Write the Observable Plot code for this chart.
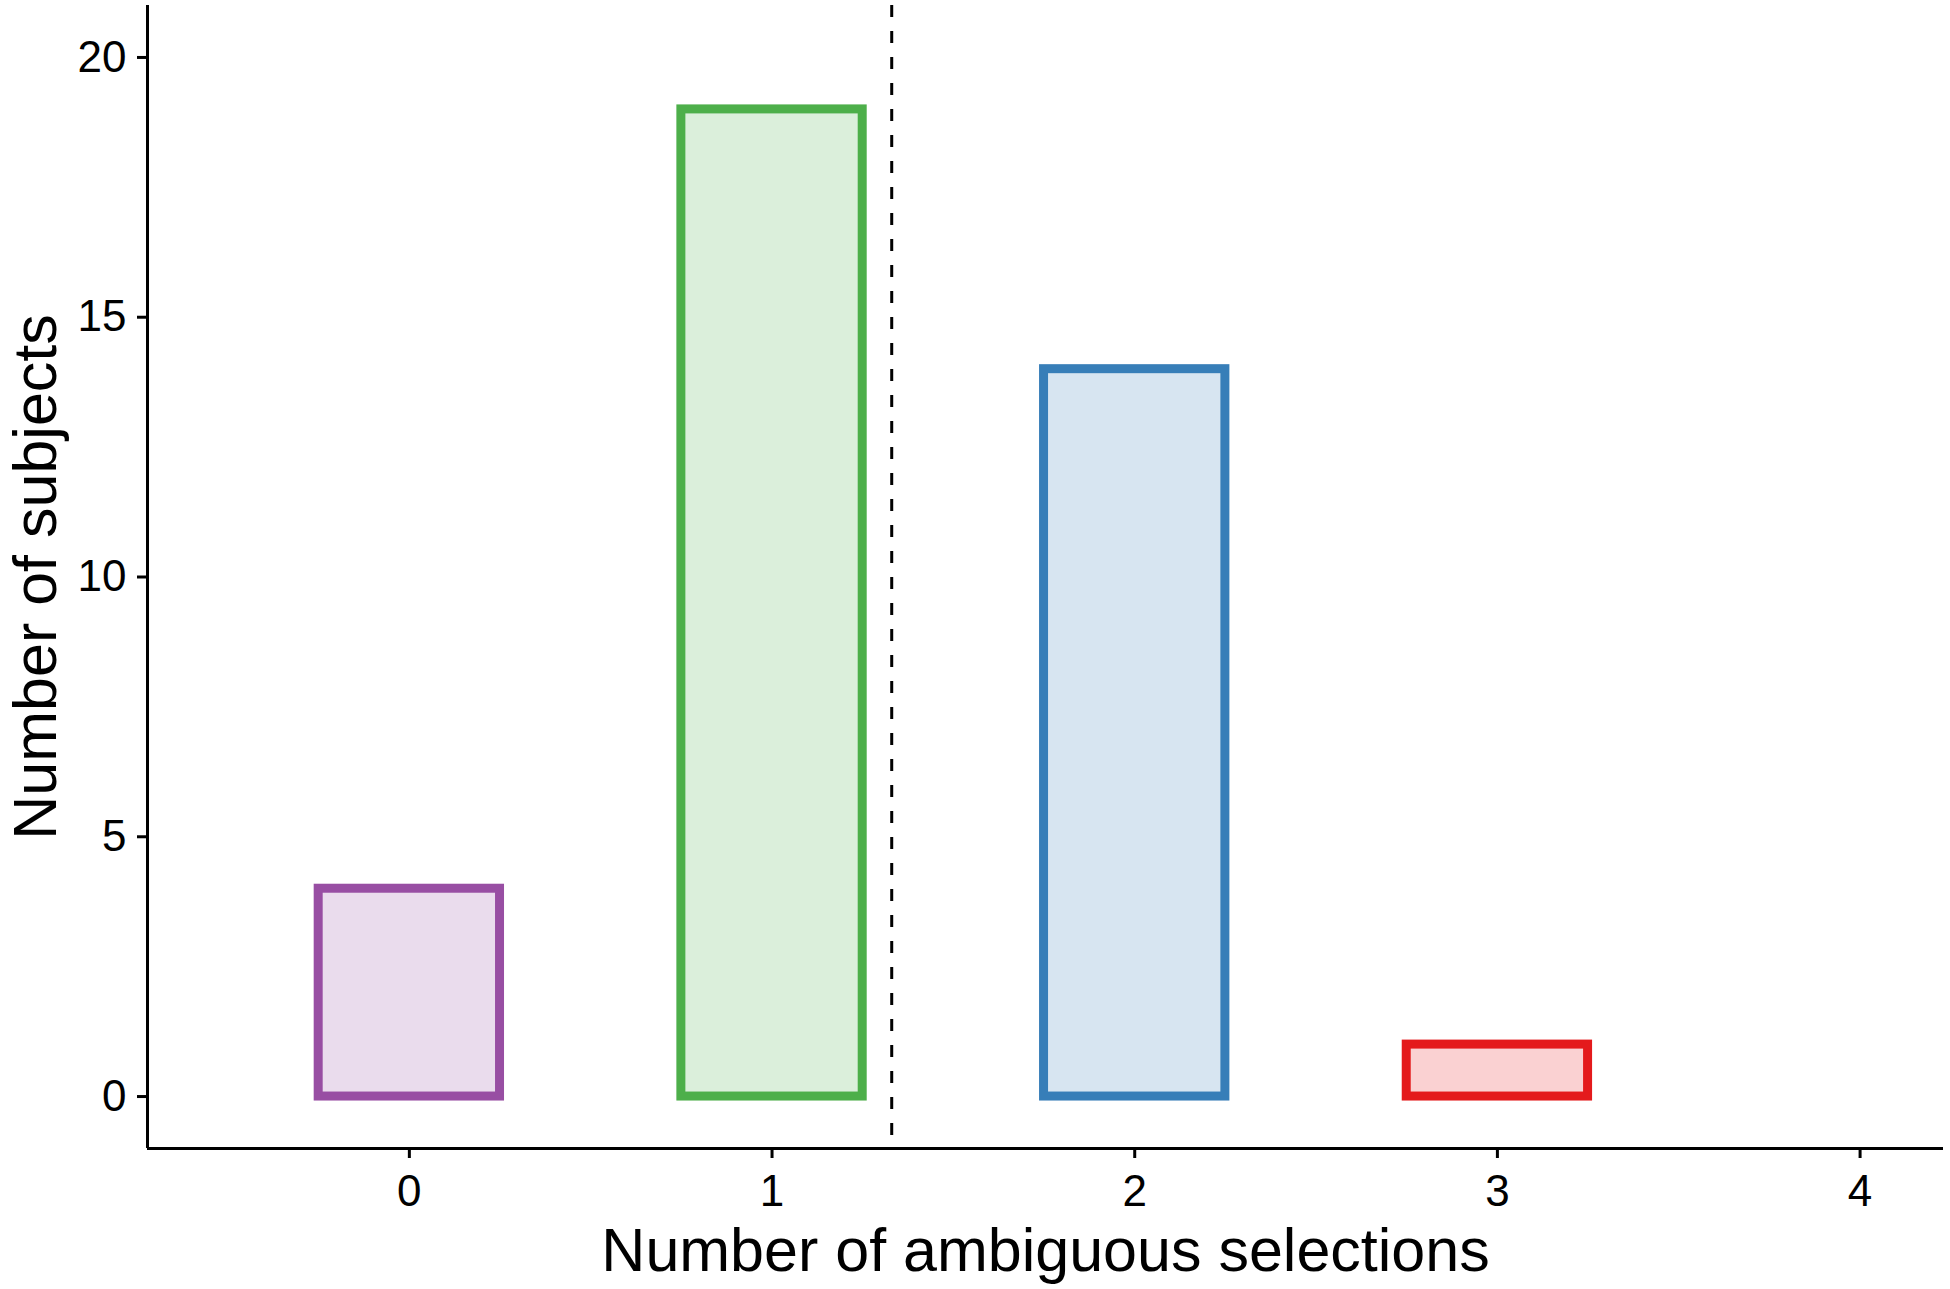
<!DOCTYPE html>
<html>
<head>
<meta charset="utf-8">
<script src="https://cdn.jsdelivr.net/npm/d3@7"></script>
<script src="https://cdn.jsdelivr.net/npm/@observablehq/plot@0.6"></script>
<style>
  html, body { margin: 0; padding: 0; background: #ffffff; }
  svg { display: block; }
</style>
</head>
<body>
<script>
// ---- data ----
const selections = [0, 1, 2, 3];
const subjects = [4, 19, 14, 1];
const barColors = ["#984EA3", "#4DAF4A", "#377EB8", "#E41A1C"];
const xTicks = [0, 1, 2, 3, 4];
const yTicks = [0, 5, 10, 15, 20];
const thresholdX = 1.33;
const xLabel = "Number of ambiguous selections";
const yLabel = "Number of subjects";

// ---- layout ----
const xDomain = [-0.722, 4.23];
const yDomain = [-1, 21];
const barHalf = 0.25;

const data = selections.map((s, i) => ({x: s, n: subjects[i], c: barColors[i]}));

const chart = Plot.plot({
  width: 1950,
  height: 1289,
  marginLeft: 147,
  marginRight: 7,
  marginTop: 5,
  marginBottom: 141,
  style: {fontFamily: "'Liberation Sans', Arial, Helvetica, sans-serif", background: "#ffffff", color: "#000000"},
  x: {domain: xDomain, axis: null},
  y: {domain: yDomain, axis: null},
  marks: [
    Plot.rect(data, {
      x1: d => d.x - barHalf,
      x2: d => d.x + barHalf,
      y1: 0,
      y2: "n",
      fill: d => d.c,
      fillOpacity: 0.2,
      stroke: d => d.c,
      strokeWidth: 9
    }),
    Plot.ruleX([thresholdX], {stroke: "#000000", strokeWidth: 3, strokeDasharray: "12,14"}),
    Plot.ruleX([xDomain[0]], {stroke: "#000000", strokeWidth: 3}),
    Plot.ruleY([yDomain[0]], {stroke: "#000000", strokeWidth: 3}),
    Plot.axisX({ticks: xTicks, tickSize: 10, tickPadding: 16, fontSize: 44, strokeWidth: 3, label: null, tickFormat: d => String(d)}),
    Plot.axisY({ticks: yTicks, tickSize: 10, tickPadding: 11, fontSize: 44, strokeWidth: 3, label: null, tickFormat: d => String(d)}),
    Plot.text([xLabel], {frameAnchor: "bottom", dy: 122, fontSize: 61, textAnchor: "middle", lineAnchor: "bottom", fill: "#000000"}),
    Plot.text([yLabel], {frameAnchor: "left", dx: -92, rotate: -90, fontSize: 61, textAnchor: "middle", lineAnchor: "bottom", fill: "#000000"})
  ]
});
document.body.appendChild(chart);
</script>
</body>
</html>
